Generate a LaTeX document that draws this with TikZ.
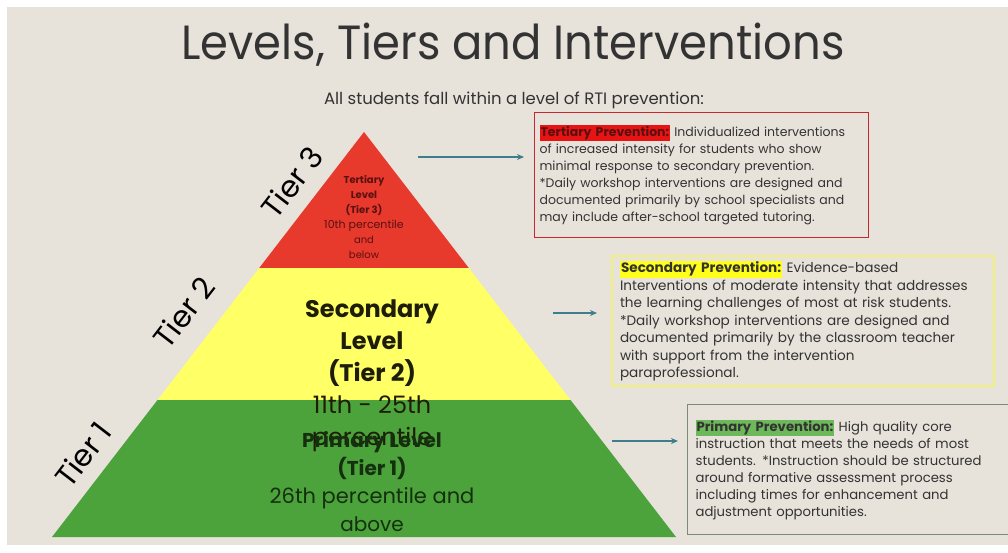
\documentclass[tikz,border=0pt]{standalone}
\usepackage{fontspec}
\setmainfont{Poppins}
\usepackage{tikz}
\usetikzlibrary{arrows.meta, positioning}

\definecolor{slide}{HTML}{E7E2DA}
\definecolor{tierred}{HTML}{E8392D}
\definecolor{tieryellow}{HTML}{FFFF66}
\definecolor{tiergreen}{HTML}{4CA23B}
\definecolor{arrowteal}{HTML}{3E7D8C}
\definecolor{inkgray}{HTML}{333333}
\definecolor{tertink}{HTML}{5A1010}
\definecolor{secink}{HTML}{1E1E08}
\definecolor{primink}{HTML}{15300F}
\definecolor{hlred}{HTML}{E81414}
\definecolor{hlyellow}{HTML}{FFFF1A}
\definecolor{hlgreen}{HTML}{6DB85A}
\definecolor{boxred}{HTML}{C8282D}
\definecolor{boxyellow}{HTML}{F0F07A}
\definecolor{boxgreen}{HTML}{7D8A78}

% highlighted lead-in of each prevention box
\newcommand{\hlbox}[2]{{\setlength{\fboxsep}{1pt}\colorbox{#1}{\textbf{#2}}}}

\begin{document}
\begin{tikzpicture}[x=1pt,y=-1pt,>={Stealth[length=7pt,width=6pt]},
    infobox/.style={rectangle, draw, line width=1.2pt, anchor=north west, align=left,
      inner xsep=8pt, inner ysep=5pt, text=inkgray, font=\fontsize{13.2}{17}\selectfont},
    tierlabel/.style={rotate=52.4, text=black, font=\fontsize{30}{30}\selectfont},
    pointer/.style={->, draw=arrowteal, line width=1.5pt}]

  % slide background
  \fill[white] (0,0) rectangle (1008,552);
  \fill[slide] (7,7) rectangle (1008,545);
  \useasboundingbox (0,0) rectangle (1008,552);

  % pyramid bands
  \fill[tierred] (364,132) -- (468.8,268) -- (259.2,268) -- cycle;
  \fill[tieryellow] (259.2,268) -- (468.8,268) -- (570.5,400) -- (157.5,400) -- cycle;
  \fill[tiergreen] (157.5,400) -- (570.5,400) -- (676,537) -- (52,537) -- cycle;

  \node (title) [anchor=base, xscale=0.935, transform shape, text=inkgray, font=\fontsize{48}{48}\selectfont] at (513,59) {Levels, Tiers and Interventions};
  \node (subtitle) [anchor=base, text=inkgray, font=\fontsize{16.5}{18}\selectfont] at (514,104) {All students fall within a level of RTI prevention:};

  % level texts inside the pyramid
  \node (tertiary) [align=center, text=tertink, font=\fontsize{10}{15}\selectfont] at (364,217)
    {\textbf{Tertiary}\\\textbf{Level}\\\textbf{(Tier 3)}\\{\fontsize{11}{15}\selectfont 10th percentile}\\and\\below};
  \node (secondary) [align=center, text=secink, font=\fontsize{24}{32}\selectfont] at (372,376)
    {\textbf{Secondary}\\\textbf{Level}\\\textbf{(Tier 2)}\\11th - 25th\\percentile};
  \node (primary) [align=center, text=primink, font=\fontsize{20}{28}\selectfont] at (372,482)
    {\textbf{Primary Level}\\\textbf{(Tier 1)}\\{\fontsize{21}{28}\selectfont 26th percentile and}\\above};

  \node (tier3) [tierlabel] at (292,182) {Tier 3};
  \node (tier2) [tierlabel] at (184,312) {Tier 2};
  \node (tier1) [tierlabel] at (83,454) {Tier 1};

  % prevention boxes
  \node (tbox) [infobox, draw=boxred, inner xsep=5pt, text width=324pt, minimum height=125pt,
      font=\fontsize{12.5}{17}\selectfont] at (534,112)
    {\hlbox{hlred}{\textcolor{tertink}{Tertiary Prevention:}} Individualized interventions\\
     of increased intensity for students who show\\
     minimal response to secondary prevention.\\
     {*}Daily workshop interventions are designed and\\
     documented primarily by school specialists and\\
     may include after-school targeted tutoring.};
  \node (sbox) [infobox, draw=boxyellow, line width=2pt, text width=366pt, minimum height=129pt,
      font=\fontsize{13.6}{17.5}\selectfont] at (611,255)
    {\hlbox{hlyellow}{Secondary Prevention:} Evidence-based\\
     Interventions of moderate intensity that addresses\\
     the learning challenges of most at risk students.\\
     {*}Daily workshop interventions are designed and\\
     documented primarily by the classroom teacher\\
     with support from the intervention\\
     paraprofessional.};
  \node (pbox) [infobox, draw=boxgreen, text width=324pt, minimum height=130pt] at (687,404)
    {\hlbox{hlgreen}{Primary Prevention:} High quality core\\
     instruction that meets the needs of most\\
     students. {*}Instruction should be structured\\
     around formative assessment process\\
     including times for enhancement and\\
     adjustment opportunities.};

  % pointers from the pyramid to the boxes
  \coordinate (t3tail) at (418,157);
  \coordinate (t2tail) at (553,313);
  \coordinate (t1tail) at (612,441);
  \draw[pointer, shorten >=10pt] (t3tail) -- (t3tail -| tbox.west);
  \draw[pointer, shorten >=14pt] (t2tail) -- (t2tail -| sbox.west);
  \draw[pointer, shorten >=9pt] (t1tail) -- (t1tail -| pbox.west);
\end{tikzpicture}
\end{document}
